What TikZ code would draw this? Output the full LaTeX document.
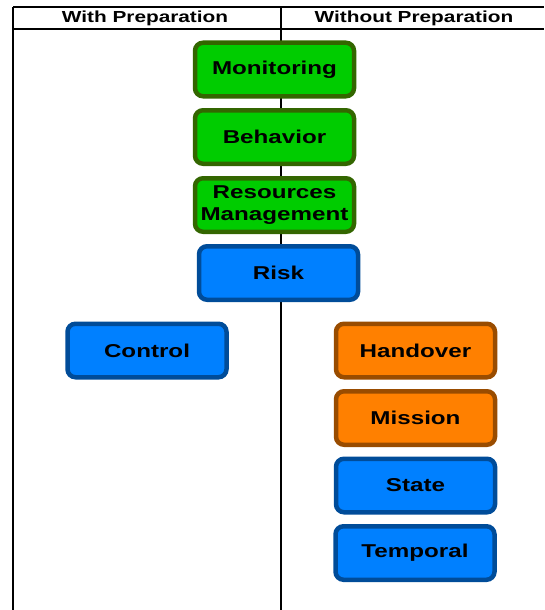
\documentclass[tikz,border=0pt]{standalone}
\usepackage{fontspec}
\setmainfont[FakeStretch=1.3]{Liberation Sans}
\definecolor{gfill}{HTML}{00CC00}
\definecolor{gline}{HTML}{336600}
\definecolor{bfill}{HTML}{0080FF}
\definecolor{bline}{HTML}{004C99}
\definecolor{ofill}{HTML}{FF8000}
\definecolor{oline}{HTML}{994C00}
\begin{document}
\begin{tikzpicture}[x=1pt,y=-1pt,
  box/.style={rounded corners=8pt, line width=4.5pt, minimum width=159pt, minimum height=53.5pt,
    align=center, inner sep=0pt, font=\fontsize{18.6}{21.5}\selectfont\bfseries},
  gbox/.style={box, draw=gline, fill=gfill},
  bbox/.style={box, draw=bline, fill=bfill},
  obox/.style={box, draw=oline, fill=ofill},
  rule/.style={line width=1.2pt, black},
  head/.style={font=\fontsize{16}{19}\selectfont\bfseries, inner sep=0pt}]
\useasboundingbox (0,0) rectangle (544,610);
% frame
\coordinate (tl) at (13,7);
\coordinate (tr) at (544,7);
\coordinate (hl) at (13,29);
\coordinate (hr) at (544,29);
\coordinate (bl) at (13,610);
\coordinate (mt) at (281,7);
\coordinate (mb) at (281,610);
\draw[rule] (tl) -- (tr);
\draw[rule] (hl) -- (hr);
\draw[rule] (tl) -- (bl);
\draw[rule] (mt) -- (mb);
\node[head] (h1) at (145,18.5) {With Preparation};
\node[head] (h2) at (414,18.5) {Without Preparation};
% boxes
\node[gbox] (mon) at (274.5,69.5) {Monitoring};
\node[gbox] (beh) at (274.5,137) {Behavior};
\node[gbox] (res) at (274.5,205) {Resources\\Management};
\node[bbox] (risk) at (278.5,273) {Risk};
\node[bbox] (ctl) at (147,350.5) {Control};
\node[obox] (hand) at (415.5,350.5) {Handover};
\node[obox] (mis) at (415.5,418) {Mission};
\node[bbox] (st) at (415.5,485.5) {State};
\node[bbox] (tmp) at (415,553) {Temporal};
\end{tikzpicture}
\end{document}
